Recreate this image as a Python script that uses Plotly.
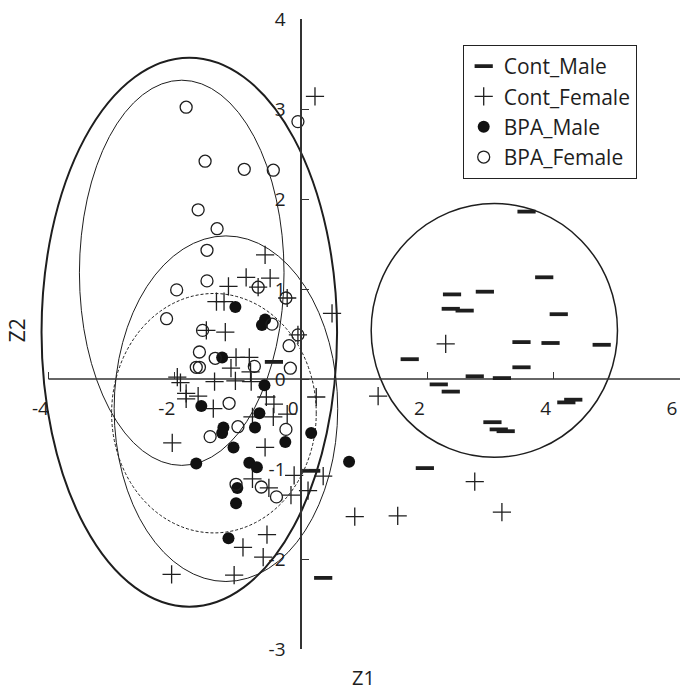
import plotly.graph_objects as go

# ---- scores on the first two discriminant axes ----
cont_male_z1 = [3.57, 3.85, 2.39, 2.91, 2.37, 2.59, 4.08, 3.49, 3.95, 4.76, 1.72, 3.49, 2.75,
                3.18, 2.18, 2.37, 4.20, 4.31, 3.03, 3.13, 3.24, 1.96, -0.43, 0.16, 0.35]
cont_male_z2 = [1.86, 1.13, 0.94, 0.97, 0.78, 0.76, 0.72, 0.41, 0.40, 0.38, 0.22, 0.13, 0.03,
                0.01, -0.06, -0.14, -0.26, -0.23, -0.48, -0.56, -0.58, -0.99, 0.19, -1.02, -2.21]

cont_female_z1 = [0.22, -0.57, -0.87, -0.49, -1.15, -0.68, -0.22, -1.34, -1.22, 0.49, -1.50, -1.20,
                  -0.05, -1.03, -0.82, -1.11, -0.80, -1.96, -1.91, -1.37, -1.04, -0.79, -1.82, -1.82,
                  -1.63, -1.39, -0.55, -0.43, 0.24, -0.77, -0.44, -0.22, -2.04, -0.57, -0.77, -0.51,
                  -0.11, 0.35, -0.16, 0.11, -0.54, -0.92, -0.60, -2.05, -1.06, 1.22, 2.29, 2.75,
                  0.85, 1.53, 3.18]
cont_female_z2 = [3.14, 1.38, 1.13, 1.12, 1.03, 1.02, 0.90, 0.86, 0.86, 0.73, 0.54, 0.52,
                  0.49, 0.24, 0.24, 0.12, 0.08, 0.02, -0.04, -0.03, -0.02, -0.03, -0.16, -0.22,
                  -0.19, -0.33, -0.20, -0.28, -0.20, -0.42, -0.42, -0.39, -0.71, -0.76, -1.11, -1.21,
                  -1.07, -1.08, -1.29, -1.24, -1.73, -1.87, -1.98, -2.17, -2.18, -0.19, 0.39, -1.14,
                  -1.53, -1.52, -1.48]

bpa_male_z1 = [-1.04, -0.57, -0.62, -1.25, -0.58, -1.58, -0.66, -1.23, -1.25, -0.73, -0.25, 0.16,
               -1.07, -1.66, -0.82, -0.70, -1.01, -1.03, -1.15, 0.76]
bpa_male_z2 = [0.80, 0.66, 0.60, 0.24, -0.07, -0.30, -0.38, -0.54, -0.60, -0.54, -0.70, -0.60,
               -0.76, -0.94, -0.93, -0.98, -1.21, -1.38, -1.77, -0.92]

bpa_female_z1 = [-1.82, -0.05, -1.52, -0.90, -0.44, -1.63, -1.33, -1.49, -1.49, -1.97, -0.68, -0.24,
                 -2.13, -0.46, -0.05, -1.56, -0.19, -1.61, -1.36, -1.61, -1.66, -0.74, -0.17, -1.14,
                 -1.00, -1.44, -0.24, -1.03, -0.63, -0.39]
bpa_female_z2 = [3.02, 2.86, 2.42, 2.33, 2.32, 1.88, 1.67, 1.43, 1.09, 0.99, 1.02, 0.90,
                 0.67, 0.61, 0.49, 0.54, 0.37, 0.30, 0.23, 0.13, 0.13, 0.14, 0.12, -0.27,
                 -0.53, -0.64, -0.56, -1.17, -1.20, -1.31]

# ---- group ellipses: centre (z1, z2) and semi-axes (z1, z2) ----
ell_cx = [-1.77, -1.89, -1.19, -1.38, 3.06]
ell_cy = [0.52, 1.18, -0.33, -0.38, 0.54]
ell_a = [2.34, 1.62, 1.77, 1.62, 1.95]
ell_b = [3.05, 2.14, 1.92, 1.33, 1.41]
ell_width = [2, 1, 1, 1, 1.5]
ell_dash = ["solid", "solid", "solid", "3px,2px", "solid"]

x_ticks = [-4, -2, 0, 2, 4, 6]
y_ticks = [-3, -2, -1, 0, 1, 2, 3, 4]
x_range = [-4.15, 6]
y_range = [-3, 4]

INK = "#1e1e1e"
FONT = "Open Sans"

fig = go.Figure()

fig.add_trace(go.Scatter(
    x=cont_male_z1, y=cont_male_z2, mode="markers", name="Cont_Male",
    marker=dict(symbol="line-ew", size=13, line=dict(width=3.8, color=INK), color=INK),
    cliponaxis=False))
fig.add_trace(go.Scatter(
    x=cont_female_z1, y=cont_female_z2, mode="markers", name="Cont_Female",
    marker=dict(symbol="cross-thin", size=13, line=dict(width=1.3, color=INK), color=INK),
    cliponaxis=False))
fig.add_trace(go.Scatter(
    x=bpa_male_z1, y=bpa_male_z2, mode="markers", name="BPA_Male",
    marker=dict(symbol="circle", size=12, color="#111111", line=dict(width=0)),
    cliponaxis=False))
fig.add_trace(go.Scatter(
    x=bpa_female_z1, y=bpa_female_z2, mode="markers", name="BPA_Female",
    marker=dict(symbol="circle-open", size=12, color=INK, line=dict(width=1.3)),
    cliponaxis=False))

for cx, cy, a, b, w, d in zip(ell_cx, ell_cy, ell_a, ell_b, ell_width, ell_dash):
    fig.add_shape(type="circle", xref="x", yref="y",
                  x0=cx - a, x1=cx + a, y0=cy - b, y1=cy + b,
                  line=dict(color=INK, width=w, dash=d), layer="below")

# horizontal axis line runs from the first tick to the right edge
fig.add_shape(type="line", xref="x", yref="y", x0=x_ticks[0], x1=x_range[1], y0=0, y1=0,
              line=dict(color="#333333", width=1.3), layer="below")

x_zero_frac = (0 - x_range[0]) / (x_range[1] - x_range[0])
y_zero_frac = (0 - y_range[0]) / (y_range[1] - y_range[0])

fig.update_layout(
    width=680, height=692,
    margin=dict(l=39, r=0, t=19, b=43),
    paper_bgcolor="white", plot_bgcolor="white",
    font=dict(family=FONT, color=INK),
    showlegend=True,
    legend=dict(x=0.661, y=0.9587, xanchor="left", yanchor="top",
                bordercolor="#222222", borderwidth=1, bgcolor="white",
                font=dict(size=21, family=FONT, color=INK),
                tracegroupgap=0),
    xaxis=dict(range=x_range, anchor="free", position=y_zero_frac,
               showline=False, showgrid=False, zeroline=False,
               ticks="inside", ticklen=7, tickwidth=1.2, tickcolor="#333333",
               tickvals=x_ticks, ticktext=[str(v) for v in x_ticks],
               tickfont=dict(size=19, family=FONT, color=INK),
               ticklabelstandoff=16, ticklabelshift=-8),
    yaxis=dict(range=y_range, anchor="free", position=x_zero_frac,
               showline=True, linecolor="#333333", linewidth=1.5,
               showgrid=False, zeroline=False,
               ticks="inside", ticklen=7, tickwidth=1.2, tickcolor="#333333",
               tickvals=y_ticks, ticktext=[str(v) for v in y_ticks],
               tickfont=dict(size=19, family=FONT, color=INK),
               ticklabelstandoff=11),
    annotations=[
        dict(text="Z1", xref="paper", yref="paper", x=0.507, y=-0.046,
             showarrow=False, font=dict(size=20, family=FONT, color=INK),
             xanchor="center", yanchor="middle"),
        dict(text="Z2", xref="paper", yref="paper", x=-0.0343, y=0.506,
             showarrow=False, textangle=-90, font=dict(size=21, family=FONT, color=INK),
             xanchor="center", yanchor="middle"),
    ],
)

fig.write_html("out.html")
